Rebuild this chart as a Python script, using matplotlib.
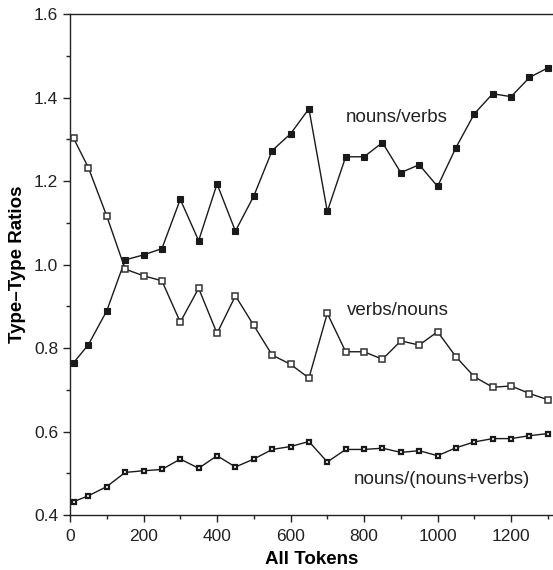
import numpy as np
import matplotlib
matplotlib.use("Agg")
from matplotlib import pyplot as plt
from matplotlib.ticker import MultipleLocator

plt.rcParams['font.family'] = ['Liberation Sans', 'DejaVu Sans']

# token counts
tokens = [10] + list(range(50, 1301, 50))

nouns_verbs = [0.765, 0.808, 0.889, 1.011, 1.023, 1.038, 1.156, 1.057, 1.193, 1.080,
               1.164, 1.273, 1.313, 1.373, 1.127, 1.258, 1.258, 1.292, 1.220, 1.239,
               1.187, 1.280, 1.361, 1.409, 1.402, 1.448, 1.471]

verbs_nouns = [1.302, 1.232, 1.116, 0.989, 0.973, 0.961, 0.862, 0.943, 0.835, 0.925,
               0.854, 0.783, 0.761, 0.728, 0.883, 0.791, 0.791, 0.773, 0.817, 0.807,
               0.839, 0.779, 0.731, 0.706, 0.709, 0.691, 0.676]

nouns_share = [0.432, 0.446, 0.468, 0.502, 0.506, 0.509, 0.534, 0.512, 0.542, 0.515,
               0.534, 0.557, 0.564, 0.576, 0.527, 0.557, 0.557, 0.560, 0.550, 0.554,
               0.542, 0.561, 0.575, 0.583, 0.583, 0.590, 0.595]

fig = plt.figure(figsize=(5.53, 5.70), dpi=100)
ax = fig.add_axes([70/553, 1 - 515/570, 1 - 70/553, (515 - 14)/570])

lc = '#1a1a1a'
ax.plot(tokens, nouns_verbs, '-', color=lc, lw=1.0, marker='s', ms=4.4,
        mfc=lc, mec=lc, mew=0.8, clip_on=False, zorder=3)
ax.plot(tokens, verbs_nouns, '-', color=lc, lw=1.0, marker='s', ms=4.2,
        mfc='white', mec='#333333', mew=1.1, clip_on=False, zorder=3)
ax.plot(tokens, nouns_share, '-', color=lc, lw=1.0, marker='s', ms=3.3,
        mfc='white', mec=lc, mew=1.6, clip_on=False, zorder=3)

ax.text(889, 1.351, 'nouns/verbs', fontsize=13.5, ha='center', va='center', color='#222222')
ax.text(893, 0.891, 'verbs/nouns', fontsize=13.5, ha='center', va='center', color='#222222')
ax.text(1013, 0.486, 'nouns/(nouns+verbs)', fontsize=13.5, ha='center', va='center', color='#222222')

ax.set_xlim(0, 1314)
ax.set_ylim(0.4, 1.6)
ax.xaxis.set_major_locator(MultipleLocator(200))
ax.xaxis.set_minor_locator(MultipleLocator(100))
ax.yaxis.set_major_locator(MultipleLocator(0.2))
ax.yaxis.set_minor_locator(MultipleLocator(0.1))
ax.yaxis.set_major_formatter(matplotlib.ticker.FormatStrFormatter('%.1f'))

ax.tick_params(which='major', direction='out', length=5, width=1, labelsize=12.5, colors='#222222')
ax.tick_params(axis='x', which='major', pad=5)
ax.tick_params(which='minor', direction='out', length=3, width=1, colors='#222222')

ax.spines['right'].set_visible(False)
for s in ['left', 'bottom', 'top']:
    ax.spines[s].set_linewidth(1.0)
    ax.spines[s].set_color('#222222')

ax.set_xlabel('All Tokens', fontsize=13.5, fontweight='bold', labelpad=5)
ax.set_ylabel('Type\u2013Type Ratios', fontsize=13.5, fontweight='bold', labelpad=6)

fig.savefig('out.png', dpi=100)
